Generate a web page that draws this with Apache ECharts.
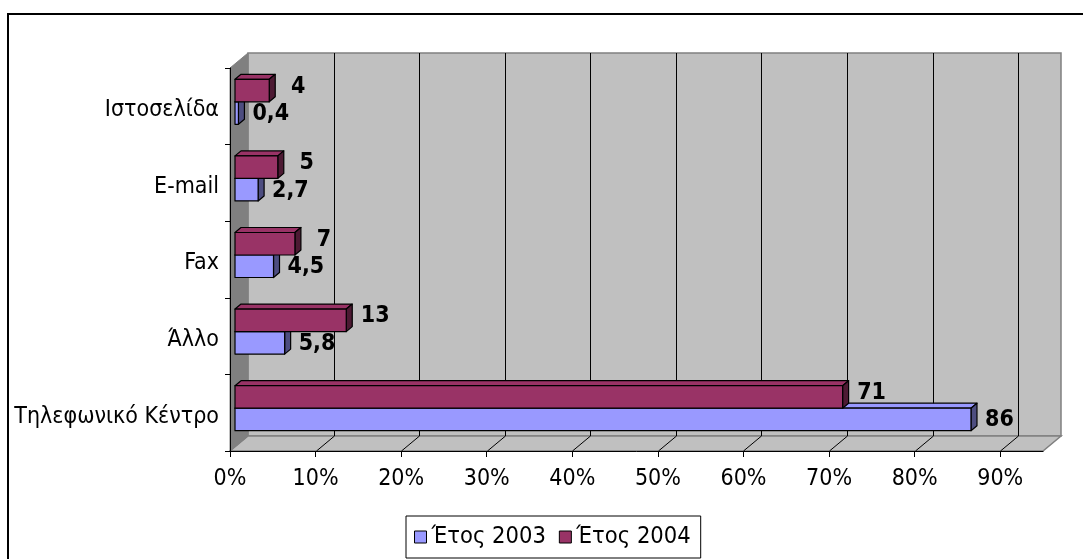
<!DOCTYPE html>
<html>
<head>
<meta charset="utf-8">
<script src="https://cdn.jsdelivr.net/npm/echarts@6/dist/echarts.min.js"></script>
<style>
  html, body { margin: 0; padding: 0; background: #fff; }
  #chart { width: 1083px; height: 559px; }
</style>
</head>
<body>
<div id="chart"></div>
<script>
// Contact channels, share of requests per year (%)
const categories = ['Τηλεφωνικό Κέντρο', 'Άλλο', 'Fax', 'E-mail', 'Ιστοσελίδα'];
const values2003 = [86, 5.8, 4.5, 2.7, 0.4];
const values2004 = [71, 13, 7, 5, 4];
const seriesNames = ['Έτος 2003', 'Έτος 2004'];
const percentTicks = [0, 10, 20, 30, 40, 50, 60, 70, 80, 90];
const axisMax = 95;

const FONT = '"DejaVu Sans Condensed", "DejaVu Sans", sans-serif';
const DEPTH = [18, -15];      // oblique offset from front plane to back wall
const FACE = [5, -4.5];       // bar front faces sit slightly inside the box
const BAR_DEPTH = [6, -5];    // visible thickness of each bar
const BAR_FRAC = 0.294;       // bar height as a share of one category band

const palette = [
  { front: '#9999ff', top: '#9999ff', side: '#4d4d80' },
  { front: '#993366', top: '#993366', side: '#4d1a33' }
];

function fmt(v) { return String(v).replace('.', ','); }

function renderWalls(params, api) {
  const band = api.size([0, 1])[1];
  const p0 = api.coord([0, 0]);
  const pN = api.coord([0, categories.length - 1]);
  const x0 = p0[0];
  const yB = p0[1] + band / 2;
  const yT = pN[1] - band / 2;
  const xM = api.coord([axisMax, 0])[0];
  const dx = DEPTH[0], dy = DEPTH[1];
  const children = [
    { type: 'polygon', shape: { points: [[x0 + dx, yT + dy], [xM + dx, yT + dy], [xM + dx, yB + dy], [x0 + dx, yB + dy]] },
      style: { fill: '#c0c0c0', stroke: '#808080', lineWidth: 1.5 } },
    { type: 'polygon', shape: { points: [[x0, yB], [xM, yB], [xM + dx, yB + dy], [x0 + dx, yB + dy]] },
      style: { fill: '#c0c0c0', stroke: '#808080', lineWidth: 1.5 } },
    { type: 'polygon', shape: { points: [[x0, yT], [x0 + dx, yT + dy], [x0 + dx, yB + dy], [x0, yB]] },
      style: { fill: '#808080', stroke: '#808080', lineWidth: 1 } }
  ];
  percentTicks.forEach(function (t) {
    if (t === 0) return;
    const x = Math.round(api.coord([t, 0])[0]) + 0.5;
    children.push({ type: 'polyline',
      shape: { points: [[x, yB], [x + dx, yB + dy], [x + dx, yT + dy]] },
      style: { stroke: '#000', lineWidth: 1, fill: null } });
  });
  return { type: 'group', children: children };
}

function makeBarRenderer(slot) {
  const col = palette[slot];
  return function (params, api) {
    const v = api.value(0);
    const ci = api.value(1);
    const band = api.size([0, 1])[1];
    const c = api.coord([0, ci]);
    const e = api.coord([v, ci]);
    const h = band * BAR_FRAC;
    const mid = c[1] + FACE[1];
    const top = slot === 0 ? mid : mid - h;
    const x1 = c[0] + FACE[0];
    const x2 = e[0] + FACE[0];
    const bx = BAR_DEPTH[0], by = BAR_DEPTH[1];
    const st = function (fill) { return { fill: fill, stroke: '#000', lineWidth: 1.2, lineJoin: 'round' }; };
    const sideEnd = x2 + bx;
    const label = slot === 0
      ? { text: fmt(v), x: sideEnd + 8, y: top + h / 2 + 1, align: 'left' }
      : { text: fmt(v), x: sideEnd + 23, y: top + h / 2 - 4, align: 'center' };
    return {
      type: 'group',
      children: [
        { type: 'polygon', shape: { points: [[x1, top], [x2, top], [x2 + bx, top + by], [x1 + bx, top + by]] }, style: st(col.top) },
        { type: 'polygon', shape: { points: [[x2, top], [x2 + bx, top + by], [x2 + bx, top + h + by], [x2, top + h]] }, style: st(col.side) },
        { type: 'rect', shape: { x: x1, y: top, width: x2 - x1, height: h }, style: st(col.front) },
        { type: 'text', style: { text: label.text, x: label.x, y: label.y, align: label.align, verticalAlign: 'middle',
            fill: '#000', font: 'bold 23px ' + FONT } }
      ]
    };
  };
}

const chart = echarts.init(document.getElementById('chart'), null, { renderer: 'canvas' });

chart.setOption({
  animation: false,
  backgroundColor: '#fff',
  textStyle: { fontFamily: FONT },
  graphic: [{
    type: 'rect', z: -10, silent: true,
    shape: { x: 8, y: 14, width: 1200, height: 700 },
    style: { fill: null, stroke: '#000', lineWidth: 2 }
  }],
  grid: { left: 230, right: 40, top: 68, bottom: 108, containLabel: false, outerBoundsMode: 'none' },
  xAxis: {
    type: 'value', min: 0, max: axisMax, interval: 10, z: 10,
    axisLine: { show: true, lineStyle: { color: '#000', width: 1 } },
    axisTick: { show: true, length: 6, inside: false, customValues: percentTicks, lineStyle: { color: '#000' } },
    axisLabel: { customValues: percentTicks, formatter: function (v) { return v + '%'; },
      color: '#000', fontSize: 23, fontFamily: FONT, margin: 17 },
    splitLine: { show: false }
  },
  yAxis: {
    type: 'category', data: categories, z: 10,
    axisLine: { show: true, lineStyle: { color: '#000', width: 1 } },
    axisTick: { show: true, length: 5, inside: false, lineStyle: { color: '#000' } },
    axisLabel: {
      margin: 11,
      formatter: function (v) { return '{c|' + v + '}'; },
      rich: { c: { color: '#000', fontSize: 23, fontFamily: FONT, padding: [8, 0, 0, 0] } }
    },
    splitLine: { show: false }
  },
  legend: {
    data: seriesNames, left: 406, top: 516, icon: 'rect',
    itemWidth: 12, itemHeight: 12, itemGap: 13,
    padding: [9, 10, 9, 8],
    borderColor: '#000', borderWidth: 1,
    itemStyle: { borderColor: '#000', borderWidth: 1 },
    textStyle: { fontFamily: FONT, fontSize: 23.5, color: '#000' }
  },
  series: [
    { name: 'walls', type: 'custom', z: 0, clip: false, silent: true,
      renderItem: renderWalls, encode: { x: 0, y: 1 }, data: [[0, 0]] },
    { name: seriesNames[0], type: 'custom', z: 3, clip: false,
      itemStyle: { color: palette[0].front },
      renderItem: makeBarRenderer(0), encode: { x: 0, y: 1 },
      data: values2003.map(function (v, i) { return [v, i]; }) },
    { name: seriesNames[1], type: 'custom', z: 4, clip: false,
      itemStyle: { color: palette[1].front },
      renderItem: makeBarRenderer(1), encode: { x: 0, y: 1 },
      data: values2004.map(function (v, i) { return [v, i]; }) }
  ]
});
</script>
</body>
</html>
